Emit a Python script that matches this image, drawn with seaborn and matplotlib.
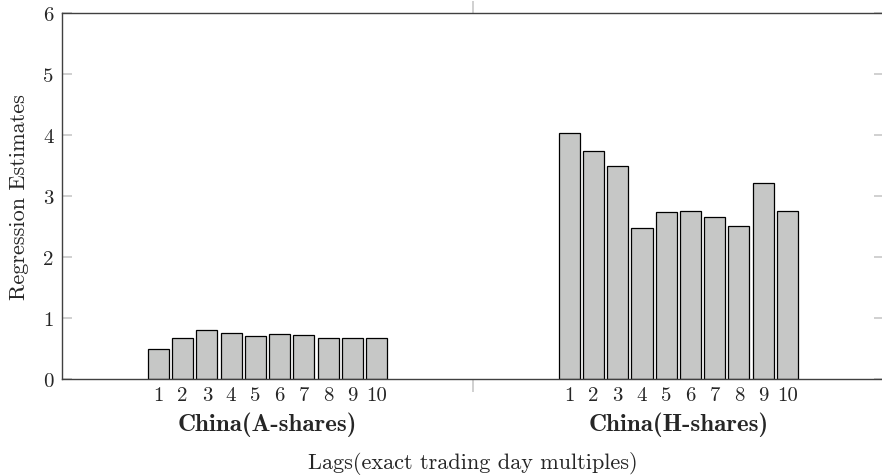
import matplotlib
matplotlib.use("Agg")
import matplotlib.pyplot as plt
import matplotlib.transforms as mtransforms
import seaborn as sns
import pandas as pd

groups = ["China(A-shares)", "China(H-shares)"]
lags = [str(i) for i in range(1, 11)]
a_shares = [0.50, 0.68, 0.81, 0.76, 0.70, 0.73, 0.715, 0.68, 0.665, 0.68]
h_shares = [4.03, 3.74, 3.49, 2.47, 2.73, 2.76, 2.65, 2.51, 3.22, 2.75]
y_ticks = [0, 1, 2, 3, 4, 5, 6]
y_label = "Regression Estimates"
x_label = "Lags(exact trading day multiples)"

rows = []
for g, vals in zip(groups, [a_shares, h_shares]):
    for lag, v in zip(lags, vals):
        rows.append({"group": g, "lag": lag, "value": v})
df = pd.DataFrame(rows)

sns.set_theme(style="white")
plt.rcParams["font.family"] = ["cmr10", "DejaVu Serif"]
plt.rcParams["axes.formatter.use_mathtext"] = True
plt.rcParams["mathtext.fontset"] = "cm"

fig = plt.figure(figsize=(8.82, 4.77), dpi=100)
ax = fig.add_axes([62 / 882, 97 / 477, 1.0 - 62 / 882 + 0.002, (380 - 14) / 477])

bar_color = "#c6c7c6"
sns.barplot(data=df, x="group", y="value", hue="lag", order=groups, hue_order=lags,
            palette=[bar_color] * len(lags), width=0.59, gap=0.13, dodge=True,
            edgecolor="black", linewidth=0.9, legend=False, ax=ax, saturation=1)

tick_fs = 15
lab_fs = 16
ax.set_xlim(-0.5, 1.5)
ax.set_ylim(0, 6)
ax.set_yticks(y_ticks)
ax.set_yticklabels([str(t) for t in y_ticks], fontsize=tick_fs)
ax.set_xticks([0.5])
ax.set_xticklabels([""])
ax.tick_params(axis="x", which="both", direction="out", length=9, width=1.2,
               color="#c8c8c8", top=True, bottom=True)
ax.tick_params(axis="y", which="both", direction="in", length=7, width=1.2,
               color="#c8c8c8", left=True, right=True, pad=6)

spine_c = "#404040"
for s in ["left", "top", "bottom"]:
    ax.spines[s].set_color(spine_c)
    ax.spines[s].set_linewidth(1.0)
ax.spines["right"].set_visible(False)

trans = mtransforms.blended_transform_factory(ax.transData, ax.transAxes)
axh = 366.0
for lag, cont in zip(lags, ax.containers):
    for bar in cont:
        xc = bar.get_x() + bar.get_width() / 2
        ax.text(xc, -16 / axh, lag, transform=trans, ha="center", va="center", fontsize=tick_fs)

for i, g in enumerate(groups):
    ax.text(i, -45 / axh, g, transform=trans, ha="center", va="center",
            fontsize=18, family=["cmb10", "DejaVu Serif"])

ax.set_xlabel("")
ax.text(0.5, -84 / axh, x_label, transform=ax.transAxes, ha="center", va="center", fontsize=lab_fs)
ax.set_ylabel(y_label, fontsize=lab_fs, labelpad=10)

fig.savefig("out.png", dpi=100)
